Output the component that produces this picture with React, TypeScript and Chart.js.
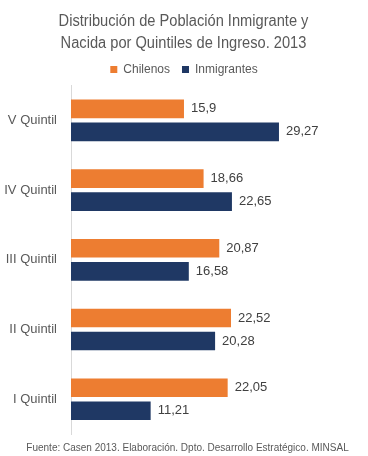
import React, { useEffect, useRef } from "react";
import { Chart, registerables } from "chart.js";

Chart.register(...registerables);

const categories = ["V Quintil", "IV Quintil", "III Quintil", "II Quintil", "I Quintil"];
const chilenos = [15.9, 18.66, 20.87, 22.52, 22.05];
const inmigrantes = [29.27, 22.65, 16.58, 20.28, 11.21];
const seriesNames = ["Chilenos", "Inmigrantes"];
const titleLines = ["Distribución de Población Inmigrante y", "Nacida por Quintiles de Ingreso. 2013"];
const footerText = "Fuente: Casen 2013. Elaboración. Dpto. Desarrollo Estratégico. MINSAL";

const FONT = "'Liberation Sans', Arial, sans-serif";
const ORANGE = "#ED7D31";
const NAVY = "#1F3864";
const TEXT = "#595959";

const dataLabels = {
  id: "dataLabels",
  afterDatasetsDraw(chart: any) {
    const ctx = chart.ctx;
    ctx.save();
    ctx.font = `13px ${FONT}`;
    ctx.fillStyle = "#404040";
    ctx.textAlign = "left";
    ctx.textBaseline = "middle";
    chart.data.datasets.forEach((ds: any, i: number) => {
      const meta = chart.getDatasetMeta(i);
      meta.data.forEach((el: any, j: number) => {
        const v = ds.data[j];
        ctx.fillText(String(v).replace(".", ","), el.x + 7, el.y);
      });
    });
    ctx.restore();
  },
};

// Title (slightly condensed) and source note, drawn as canvas text
const texts = {
  id: "texts",
  afterDraw(chart: any) {
    const ctx = chart.ctx;
    ctx.save();
    ctx.fillStyle = TEXT;
    ctx.textAlign = "center";
    ctx.textBaseline = "alphabetic";
    ctx.font = `16px ${FONT}`;
    const sx = 0.915;
    ctx.save();
    ctx.translate(183.5, 0);
    ctx.scale(sx, 1);
    ctx.fillText(titleLines[0], 0, 25.5);
    ctx.fillText(titleLines[1], 0, 47.5);
    ctx.restore();
    ctx.font = `10px ${FONT}`;
    ctx.fillText(footerText, 187.5, 450.5);
    ctx.restore();
  },
};

const whiteBg = {
  id: "whiteBg",
  beforeDraw(chart: any) {
    const ctx = chart.ctx;
    ctx.save();
    ctx.fillStyle = "#ffffff";
    ctx.fillRect(0, 0, chart.width, chart.height);
    ctx.restore();
  },
};

export default function App() {
  const ref = useRef<HTMLCanvasElement>(null);
  useEffect(() => {
    if (!ref.current) return;
    const chart = new Chart(ref.current, {
      type: "bar",
      data: {
        labels: categories,
        datasets: [
          {
            label: seriesNames[0],
            data: chilenos,
            backgroundColor: ORANGE,
            barPercentage: 0.806,
            categoryPercentage: 0.66,
          },
          {
            label: seriesNames[1],
            data: inmigrantes,
            backgroundColor: NAVY,
            barPercentage: 0.806,
            categoryPercentage: 0.66,
          },
        ],
      },
      options: {
        indexAxis: "y",
        responsive: false,
        animation: false,
        devicePixelRatio: 1,
        layout: { padding: { left: 0, right: 0, top: 51.5, bottom: 20 } },
        scales: {
          x: {
            display: false,
            min: 0,
            max: 41.8,
          },
          y: {
            grid: { display: false, drawTicks: false },
            border: { display: true, color: "#d9d9d9", width: 1 },
            ticks: {
              color: TEXT,
              font: { family: FONT, size: 13 },
              padding: 14,
            },
            afterFit(scale: any) {
              scale.width = 71;
            },
          },
        },
        plugins: {
          title: { display: false },
          legend: {
            display: true,
            position: "top",
            labels: {
              color: TEXT,
              font: { family: FONT, size: 12 },
              boxWidth: 7,
              boxHeight: 7,
              padding: 12,
            },
          },
          tooltip: { enabled: false },
        },
      },
      plugins: [whiteBg, dataLabels, texts],
    } as any);
    return () => chart.destroy();
  }, []);
  return (
    <div style={{ position: "absolute", left: 0, top: 0, width: 368, height: 456 }}>
      <canvas ref={ref} width={368} height={456} style={{ width: 368, height: 456, display: "block" }} />
    </div>
  );
}
